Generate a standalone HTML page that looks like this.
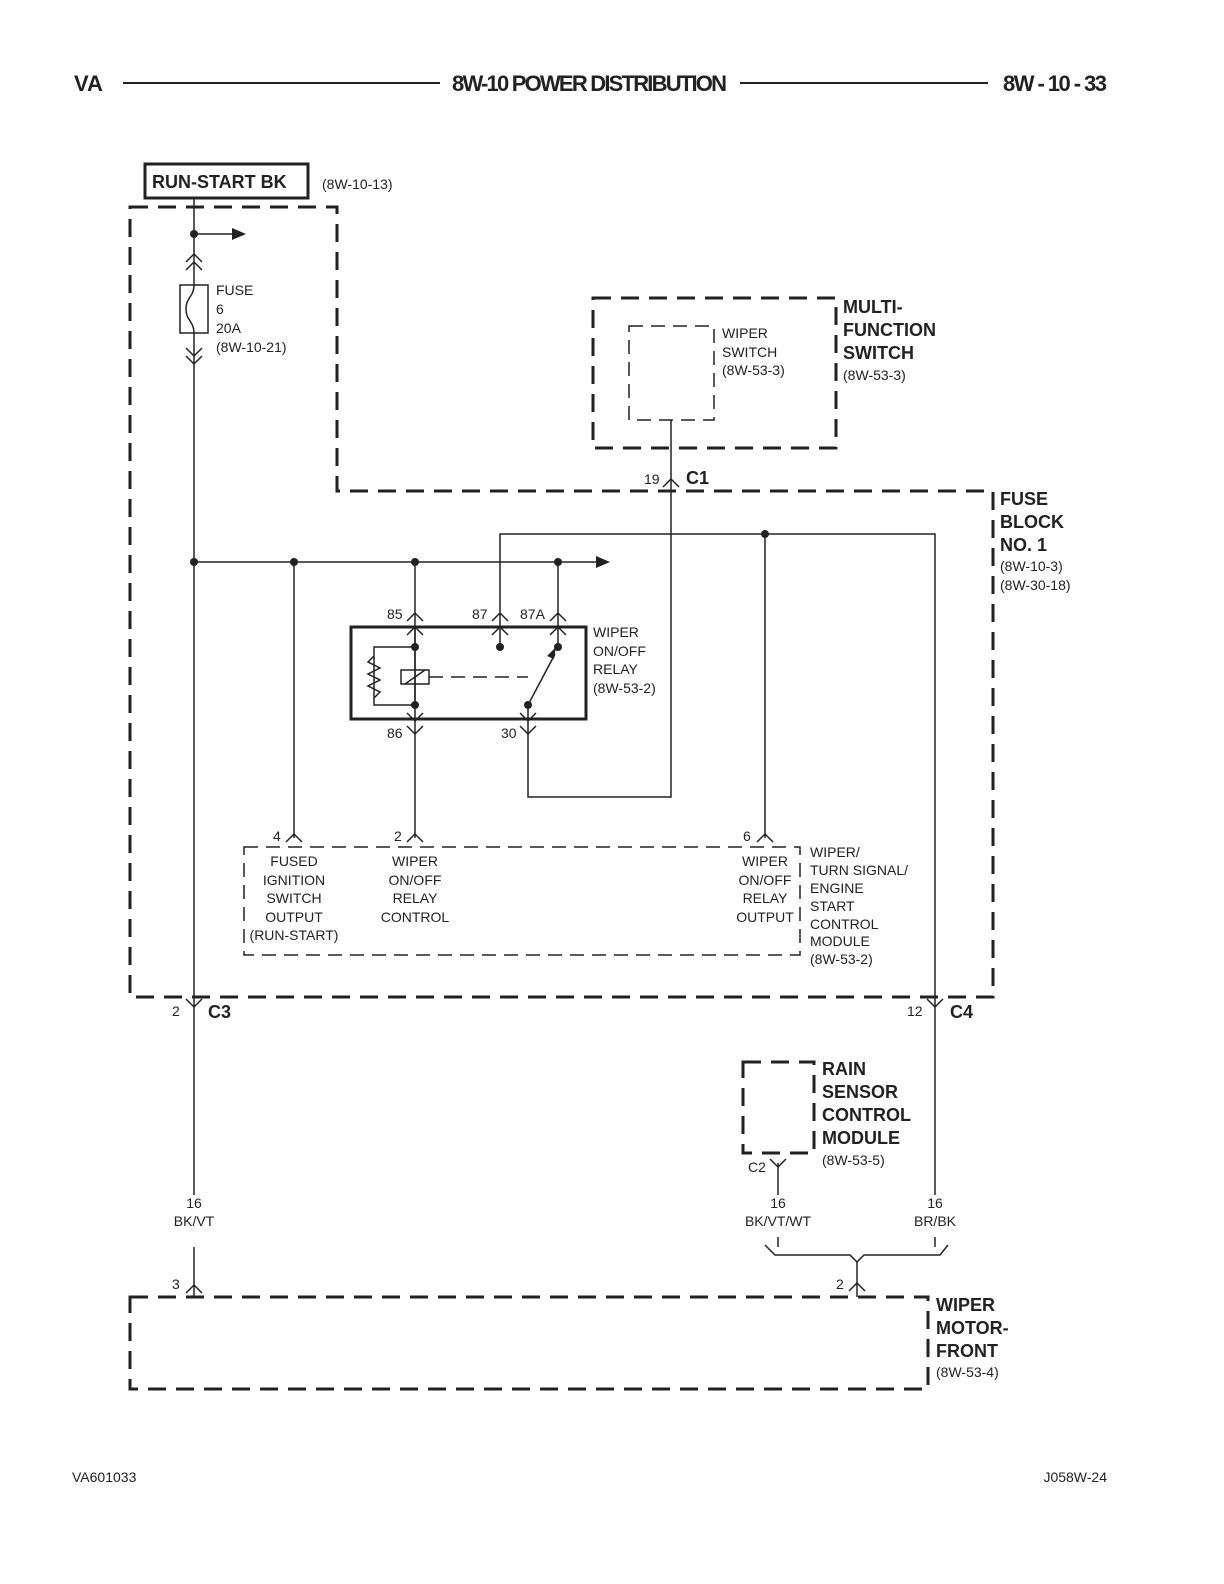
<!DOCTYPE html>
<html><head><meta charset="utf-8"><style>html,body{margin:0;padding:0;background:#fff;overflow:hidden;width:1224px;height:1584px}svg{display:block;position:absolute;left:0;top:0}text{font-family:"Liberation Sans",sans-serif;fill:#222}</style></head><body>
<svg width="1224" height="1584" viewBox="0 0 1224 1584" xmlns="http://www.w3.org/2000/svg">
<g font-weight="bold" font-size="22">
<text x="74" y="91">VA</text>
<text x="452" y="91" textLength="275">8W-10 POWER DISTRIBUTION</text>
<text x="1003" y="91" textLength="104">8W - 10 - 33</text>
</g>
<line x1="123" y1="83" x2="440" y2="83" stroke="#222" stroke-width="2"/>
<line x1="740" y1="83" x2="988" y2="83" stroke="#222" stroke-width="2"/>
<rect x="145" y="164" width="163" height="34" fill="none" stroke="#222" stroke-width="3"/>
<text x="152" y="188" font-size="18" font-weight="bold">RUN-START BK</text>
<text x="322" y="189" font-size="14">(8W-10-13)</text>
<g fill="none" stroke="#222" stroke-width="3" stroke-dasharray="18 10">
<path d="M130 207H337V491H993V997H130Z"/>
<rect x="593" y="298" width="243" height="150"/>
<rect x="743" y="1062" width="71" height="91"/>
<rect x="130" y="1297" width="798" height="92"/>
</g>
<g fill="none" stroke="#222" stroke-width="1.5" stroke-dasharray="14 8">
<rect x="629" y="326" width="85" height="94"/>
<rect x="244" y="847" width="556" height="108"/>
</g>
<g fill="none" stroke="#222" stroke-width="1.5">
<path d="M194 198V285M194 333V1195M194 1247V1297"/>
<path d="M194 234H232"/>
<path d="M194 562H596"/>
<path d="M294 562V838M415 562V838M558 562V627M415 719V732"/>
<path d="M500 627V534H935V1195M765 534V838"/>
<path d="M528 719V797H671V420"/>
<path d="M778 1163V1195"/>
<path d="M778 1237V1247M935 1237V1247"/>
<path d="M765 1245L775 1255H850L857 1262L864 1255H940L948 1245"/>
<path d="M857 1262V1297"/>
<rect x="180" y="285" width="28" height="48"/>
<path d="M194 285c0 12 -8 12 -8 24s8 12 8 24" />
<path d="M186 262l8-8 8 8M186 270l8-8 8 8"/>
<path d="M186 348l8 8 8-8M186 356l8 8 8-8"/>
<path d="M407 621l8-8 8 8M492 621l8-8 8 8M550 621l8-8 8 8M407 635l8-8 8 8M492 635l8-8 8 8M550 635l8-8 8 8"/>
<path d="M407 713l8 8 8-8M520 713l8 8 8-8M407 726l8 8 8-8M520 726l8 8 8-8"/>
<path d="M663 487l8-8 8 8"/>
<path d="M286 842l8-8 8 8M407 842l8-8 8 8M757 842l8-8 8 8"/>
<path d="M186 999l8 8 8-8M927 999l8 8 8-8"/>
<path d="M770 1159l8 8 8-8"/>
<path d="M186 1293l8-8 8 8M849 1291l8-8 8 8"/>
<path d="M415 627V705M415 647H374V705H415"/>
<path d="M374 656l-6 6 12 6-12 6 12 6-12 6 12 6-6 6"/>
<rect x="401" y="670" width="28" height="14"/>
<path d="M405 684l20-14"/>
<path d="M500 627V647M558 627V647M528 705V719"/>
<path d="M528 705L555 654"/>
</g>
<path d="M429 677H528" stroke="#222" stroke-width="1.5" stroke-dasharray="14 8"/>
<rect x="351" y="627" width="235" height="92" fill="none" stroke="#222" stroke-width="3"/>
<path d="M232 228l14 6-14 6z M596 556l14 6-14 6z M556 647l-2 12-7-3z" fill="#222"/>
<g fill="#222">
<circle cx="194" cy="234" r="4"/><circle cx="194" cy="562" r="4"/><circle cx="294" cy="562" r="4"/><circle cx="415" cy="562" r="4"/><circle cx="558" cy="562" r="4"/><circle cx="765" cy="534" r="4"/>
<circle cx="415" cy="647" r="4"/><circle cx="415" cy="705" r="4"/><circle cx="500" cy="647" r="4"/><circle cx="558" cy="647" r="4"/><circle cx="528" cy="705" r="4"/>
</g>
<g font-size="14">
<text x="216" y="295">FUSE</text><text x="216" y="314">6</text><text x="216" y="333">20A</text><text x="216" y="352">(8W-10-21)</text>
<text x="722" y="338">WIPER</text><text x="722" y="357">SWITCH</text><text x="722" y="375">(8W-53-3)</text>
<text x="843" y="380">(8W-53-3)</text>
<text x="644" y="484">19</text>
<text x="1000" y="571">(8W-10-3)</text><text x="1000" y="590">(8W-30-18)</text>
<text x="387" y="619">85</text><text x="472" y="619">87</text><text x="520" y="619">87A</text>
<text x="593" y="637">WIPER</text><text x="593" y="656">ON/OFF</text><text x="593" y="674">RELAY</text><text x="593" y="693">(8W-53-2)</text>
<text x="387" y="738">86</text><text x="501" y="738">30</text>
<text x="273" y="841">4</text><text x="394" y="841">2</text><text x="743" y="841">6</text>
<g text-anchor="middle">
<text x="294" y="866">FUSED</text><text x="294" y="885">IGNITION</text><text x="294" y="903">SWITCH</text><text x="294" y="922">OUTPUT</text><text x="294" y="940">(RUN-START)</text>
<text x="415" y="866">WIPER</text><text x="415" y="885">ON/OFF</text><text x="415" y="903">RELAY</text><text x="415" y="922">CONTROL</text>
<text x="765" y="866">WIPER</text><text x="765" y="885">ON/OFF</text><text x="765" y="903">RELAY</text><text x="765" y="922">OUTPUT</text>
<text x="194" y="1208">16</text><text x="194" y="1226">BK/VT</text>
<text x="778" y="1208">16</text><text x="778" y="1226">BK/VT/WT</text>
<text x="935" y="1208">16</text><text x="935" y="1226">BR/BK</text>
</g>
<text x="810" y="857">WIPER/</text><text x="810" y="875">TURN SIGNAL/</text><text x="810" y="893">ENGINE</text><text x="810" y="911">START</text><text x="810" y="929">CONTROL</text><text x="810" y="946">MODULE</text><text x="810" y="964">(8W-53-2)</text>
<text x="172" y="1016">2</text><text x="907" y="1016">12</text>
<text x="822" y="1165">(8W-53-5)</text>
<text x="748" y="1172">C2</text>
<text x="172" y="1289">3</text><text x="836" y="1289">2</text>
<text x="936" y="1377">(8W-53-4)</text>
<text x="72" y="1482">VA601033</text><text x="1107" y="1482" text-anchor="end">J058W-24</text>
</g>
<g font-size="18" font-weight="bold">
<text x="843" y="313">MULTI-</text><text x="843" y="336">FUNCTION</text><text x="843" y="359">SWITCH</text>
<text x="686" y="484">C1</text>
<text x="1000" y="505">FUSE</text><text x="1000" y="528">BLOCK</text><text x="1000" y="551">NO. 1</text>
<text x="208" y="1018">C3</text><text x="950" y="1018">C4</text>
<text x="822" y="1075">RAIN</text><text x="822" y="1098">SENSOR</text><text x="822" y="1121">CONTROL</text><text x="822" y="1144">MODULE</text>
<text x="936" y="1311">WIPER</text><text x="936" y="1334">MOTOR-</text><text x="936" y="1357">FRONT</text>
</g>
</svg>
</body></html>
